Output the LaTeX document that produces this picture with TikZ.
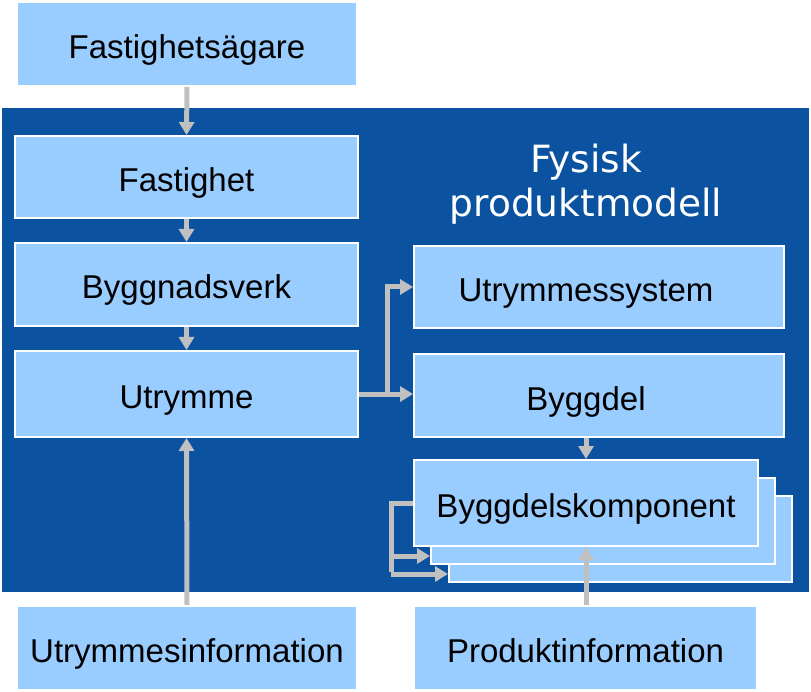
\documentclass[tikz,border=0pt]{standalone}
\usepackage{fontspec}
\setmainfont{Liberation Sans}
\newfontfamily\titlefont{DejaVu Sans}
\usetikzlibrary{arrows.meta}
\definecolor{panelblue}{HTML}{0B52A0}
\definecolor{boxblue}{HTML}{99CCFF}
\definecolor{arrgray}{HTML}{C0C0C0}
\tikzset{
  box/.style={rectangle, fill=boxblue, draw=white, line width=2pt, inner sep=0pt,
    text height=29pt, text depth=0pt,
    font=\fontsize{33}{38}\selectfont, text=black},
  arr/.style={draw=arrgray, line width=5pt, -{Triangle[length=13pt,width=15pt]}},
  plainline/.style={draw=arrgray, line width=5pt},
}
\begin{document}
\begin{tikzpicture}[x=1pt,y=-1pt]
\useasboundingbox (0,0) rectangle (811,692);
\fill[panelblue] (2,108) rectangle (809,592);
\node[text=white, align=center, font=\titlefont\fontsize{37.5}{44}\selectfont] (title) at (586,184) {Fysisk\\produktmodell};

\node[box, minimum width=340pt, minimum height=84pt] (owner) at (187,44) {Fastighetsägare};
\node[box, minimum width=343pt, minimum height=82pt] (fast) at (186.5,177) {Fastighet};
\node[box, minimum width=343pt, minimum height=83pt] (bygg) at (186.5,284.5) {Byggnadsverk};
\node[box, minimum width=343pt, minimum height=86pt] (utr) at (186.5,394) {Utrymme};
\node[box, minimum width=370pt, minimum height=82pt] (usys) at (599,287) {\hspace*{-26pt}Utrymmessystem};
\node[box, minimum width=370pt, minimum height=83pt] (bdel) at (599,395.5) {\hspace*{-26pt}Byggdel};
\node[box, minimum width=343pt, minimum height=86pt] (comp3) at (620.5,539) {};
\node[box, minimum width=344pt, minimum height=86pt] (comp2) at (603,520.5) {};
\node[box, minimum width=344pt, minimum height=86pt] (comp1) at (586,503) {Byggdelskomponent};
\node[box, minimum width=340pt, minimum height=84pt] (uinfo) at (187,648) {Utrymmesinformation};
\node[box, minimum width=343pt, minimum height=84pt] (pinfo) at (585.5,648) {Produktinformation};

\draw[arr] (owner.south) -- (fast.north);
\draw[arr] (fast.south) -- (bygg.north);
\draw[arr] (bygg.south) -- (utr.north);
\draw[arr] (uinfo.north) -- (utr.south);
\draw[arr] (utr.east) -- (utr.east -| bdel.west);
\coordinate (br) at (387,394);
\draw[arr] (br) |- (usys.west);
\draw[arr] (bdel.south -| comp1.north) -- (comp1.north);
\draw[arr] (pinfo.north -| comp1.south) -- (comp1.south);
\coordinate (l1) at (391,503);
\coordinate (l2) at (391,556);
\coordinate (l3) at (391,574);
\draw[plainline] (comp1.west) -- (l1) -- ([yshift=2.5pt]l3);
\draw[arr] (l2) -- (l2 -| comp2.west);
\draw[arr] (l3) -- (l3 -| comp3.west);
\end{tikzpicture}
\end{document}
